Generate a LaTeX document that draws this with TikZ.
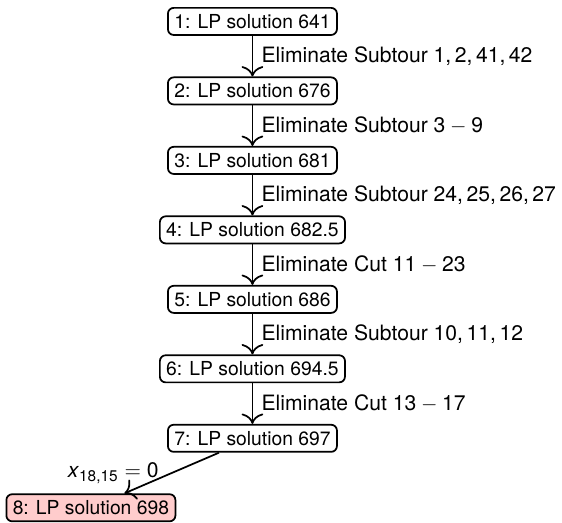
\documentclass[tikz,border=0pt]{standalone}
\usepackage{fontspec}
\setmainfont{TeX Gyre Heros}
\usetikzlibrary{arrows.meta,positioning}

\begin{document}
\begin{tikzpicture}[
  node distance=36pt, on grid,
  >={To[scale=1.5]},
  lp/.style={draw,line width=0.9pt,rounded corners=3pt,inner sep=3.3pt},
  best/.style={lp,fill=red!20},
  cut/.style={->,line width=0.9pt},
  lbl/.style={right,inner sep=3.3pt,xshift=1pt,font=\fontsize{10.95}{13.6}\selectfont},
]
\useasboundingbox (-130.8pt,11.1pt) rectangle (160.4pt,-259.8pt);

% ---- the chain of LP relaxations ----
\node[lp] (lp1) at (0,0) {1: LP solution 641};
\node[lp,below=of lp1] (lp2) {2: LP solution 676};
\node[lp,below=of lp2] (lp3) {3: LP solution 681};
\node[lp,below=of lp3] (lp4) {4: LP solution 682.5};
\node[lp,below=of lp4] (lp5) {5: LP solution 686};
\node[lp,below=of lp5] (lp6) {6: LP solution 694.5};
\node[lp,below=of lp6] (lp7) {7: LP solution 697};

% branching gives the optimum
\node[best,below left=36pt and 83.7pt of lp7] (lp8) {8: LP solution 698};

% ---- added constraints ----
\draw[cut] (lp1) -- node[lbl]{Eliminate Subtour 1,\,2,\,41,\,42} (lp2);
\draw[cut] (lp2) -- node[lbl]{Eliminate Subtour 3${}-{}$9} (lp3);
\draw[cut] (lp3) -- node[lbl]{Eliminate Subtour 24,\,25,\,26,\,27} (lp4);
\draw[cut] (lp4) -- node[lbl]{Eliminate Cut 11${}-{}$23} (lp5);
\draw[cut] (lp5) -- node[lbl]{Eliminate Subtour 10,\,11,\,12} (lp6);
\draw[cut] (lp6) -- node[lbl]{Eliminate Cut 13${}-{}$17} (lp7);

% branch on x_{18,15}
\draw[cut] (lp7) -- node[lbl,left,xshift=-4pt]{\textit{x}\textsubscript{18,15}${}={}$0} (lp8);

\end{tikzpicture}
\end{document}
